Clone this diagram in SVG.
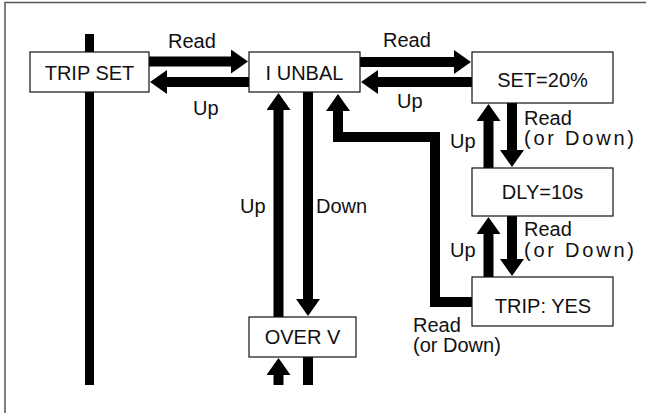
<svg xmlns="http://www.w3.org/2000/svg" width="646" height="413" viewBox="0 0 646 413">
  <style>
    .box { fill: #ffffff; stroke: #111111; stroke-width: 1.2; }
    .conn { fill: none; stroke: #000000; stroke-width: 10; stroke-linejoin: miter; stroke-linecap: butt; }
    .lbl { font-family: "Liberation Sans", Arial, sans-serif; font-size: 20px; fill: #111111; }
    .ntx { font-family: "Liberation Sans", Arial, sans-serif; font-size: 20px; fill: #111111; text-anchor: middle; }
    .frame { fill: none; stroke: #555555; stroke-width: 1.5; }
  </style>
  <defs>
    <marker id="ah" viewBox="0 0 17 24" refX="1" refY="12" markerWidth="17" markerHeight="24" markerUnits="userSpaceOnUse" orient="auto">
      <path d="M0,0 L17,12 L0,24 Z" fill="#000000"/>
    </marker>
  </defs>
  <rect width="646" height="413" fill="#ffffff"/>
  <path class="frame" d="M5,413 V2.5 H646"/>

  <g id="connectors">
    <path class="conn" d="M89.5,34 V385" style="stroke-width:9"/>
    <path class="conn" d="M149,61.5 H232" marker-end="url(#ah)"/>
    <path class="conn" d="M249,82 H166" marker-end="url(#ah)"/>
    <path class="conn" d="M360,62 H455" marker-end="url(#ah)"/>
    <path class="conn" d="M472,82 H377" marker-end="url(#ah)"/>
    <path class="conn" d="M278.5,317 V109" marker-end="url(#ah)"/>
    <path class="conn" d="M308,92 V300" marker-end="url(#ah)"/>
    <path class="conn" d="M278.5,385 V374" marker-end="url(#ah)"/>
    <path class="conn" d="M308,357 V385"/>
    <path class="conn" d="M472,302 H435 V137 H338 V110" marker-end="url(#ah)"/>
    <path class="conn" d="M488.5,168 V120" marker-end="url(#ah)"/>
    <path class="conn" d="M512,103 V151" marker-end="url(#ah)"/>
    <path class="conn" d="M488.5,277 V233" marker-end="url(#ah)"/>
    <path class="conn" d="M512,216 V260" marker-end="url(#ah)"/>
  </g>

  <g id="labels">
    <text class="lbl" x="168" y="48">Read</text>
    <text class="lbl" x="193" y="115">Up</text>
    <text class="lbl" x="383" y="47">Read</text>
    <text class="lbl" x="397" y="108">Up</text>
    <text class="lbl" x="524" y="125">Read</text>
    <text class="lbl" x="524" y="145" textLength="110" lengthAdjust="spacing">(or Down)</text>
    <text class="lbl" x="450" y="148">Up</text>
    <text class="lbl" x="524" y="236">Read</text>
    <text class="lbl" x="524" y="257" textLength="110" lengthAdjust="spacing">(or Down)</text>
    <text class="lbl" x="450" y="257">Up</text>
    <text class="lbl" x="240" y="213">Up</text>
    <text class="lbl" x="316" y="213">Down</text>
    <text class="lbl" x="413" y="332">Read</text>
    <text class="lbl" x="413" y="352">(or Down)</text>
  </g>

  <g id="trip-set">
    <rect class="box" x="30" y="52" width="119" height="40"/>
    <text class="ntx" x="89.5" y="80">TRIP SET</text>
  </g>
  <g id="i-unbal">
    <rect class="box" x="249" y="52" width="111" height="40"/>
    <text class="ntx" x="304.5" y="80">I UNBAL</text>
  </g>
  <g id="set-20">
    <rect class="box" x="472" y="52" width="141" height="51"/>
    <text class="ntx" x="542.5" y="87">SET=20%</text>
  </g>
  <g id="dly-10s">
    <rect class="box" x="472" y="168" width="141" height="48"/>
    <text class="ntx" x="542.5" y="199">DLY=10s</text>
  </g>
  <g id="trip-yes">
    <rect class="box" x="472" y="277" width="141" height="49"/>
    <text class="ntx" x="543" y="313">TRIP: YES</text>
  </g>
  <g id="over-v">
    <rect class="box" x="249" y="317" width="107" height="40"/>
    <text class="ntx" x="302.5" y="344">OVER V</text>
  </g>
</svg>
